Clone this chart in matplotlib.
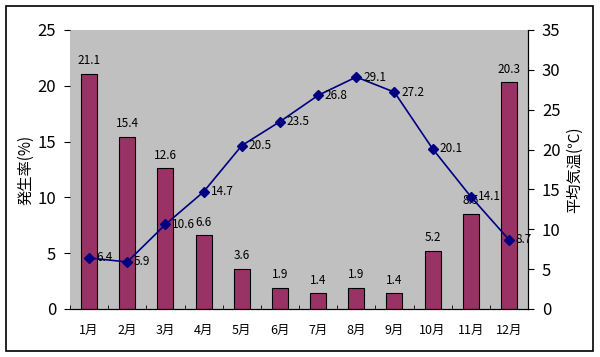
import matplotlib
matplotlib.use("Agg")
import matplotlib.pyplot as plt
from matplotlib.patches import Rectangle
import numpy as np

plt.rcParams['font.family'] = ['Noto Sans CJK JP', 'DejaVu Sans']

months = ["1月", "2月", "3月", "4月", "5月", "6月", "7月", "8月", "9月", "10月", "11月", "12月"]
rate = [21.1, 15.4, 12.6, 6.6, 3.6, 1.9, 1.4, 1.9, 1.4, 5.2, 8.5, 20.3]
temp = [6.4, 5.9, 10.6, 14.7, 20.5, 23.5, 26.8, 29.1, 27.2, 20.1, 14.1, 8.7]

fig = plt.figure(figsize=(6, 3.57), dpi=100)
fig.patches.append(Rectangle((0.01, 0.017), 0.978, 0.967, transform=fig.transFigure,
                             fill=False, edgecolor='black', linewidth=1.2))
ax = fig.add_axes([0.1167, 0.1345, 0.7633, 0.7815])
ax.set_facecolor('#C0C0C0')
x = np.arange(len(months))
ax.bar(x, rate, width=0.42, color='#993366', edgecolor='black', linewidth=0.8, zorder=2)
for xi, v in zip(x, rate):
    ax.text(xi, v + 0.6, f"{v}", ha='center', va='bottom', fontsize=8.5, zorder=5)
ax.set_xlim(-0.5, len(months) - 0.5)
ax.set_ylim(0, 25)
ax.set_yticks(range(0, 26, 5))
ax.set_xticks(x)
ax.set_xticklabels(months, fontsize=9)
ax.set_xticks(np.arange(-0.5, len(months), 1), minor=True)
ax.tick_params(axis='x', which='major', length=0, pad=11)
ax.tick_params(axis='x', which='minor', direction='in', length=3)
ax.tick_params(axis='y', labelsize=12, length=4, direction='out', pad=6)
ax.set_ylabel("発生率(%)", fontsize=11, labelpad=2)
for s in ['top', 'left']:
    ax.spines[s].set_visible(False)
ax.spines['bottom'].set_linewidth(0.8)

ax2 = ax.twinx()
ax2.plot(x, temp, color='#000080', marker='D', markersize=5, linewidth=1.2, zorder=4)
for xi, v in zip(x, temp):
    ax2.text(xi + 0.18, v, f"{v}", ha='left', va='center', fontsize=8.5, zorder=5)
ax2.set_ylim(0, 35)
ax2.set_yticks(range(0, 36, 5))
ax2.tick_params(axis='y', labelsize=12, length=4, direction='out', pad=6)
ax2.set_ylabel("平均気温(℃)", fontsize=11, labelpad=4)
for s in ['top', 'left']:
    ax2.spines[s].set_visible(False)
ax2.spines['right'].set_linewidth(0.8)

fig.savefig("out.png", dpi=100)
